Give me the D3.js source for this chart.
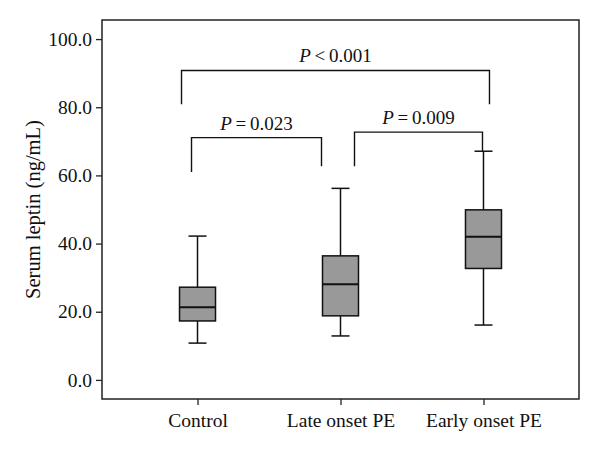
<!DOCTYPE html>
<html><head><meta charset="utf-8">
<script src="https://cdn.jsdelivr.net/npm/d3@7"></script>
<style>body{margin:0;background:#fff;}svg{display:block;}</style>
</head><body>
<script>
const categories = ["Control", "Late onset PE", "Early onset PE"];
const whiskerLow = [10.8, 12.9, 16.1];
const q1 = [17.3, 18.8, 32.7];
const median = [21.3, 28.1, 42.0];
const q3 = [27.2, 36.4, 49.9];
const whiskerHigh = [42.2, 56.2, 67.1];
const yTicks = [0, 20, 40, 60, 80, 100];
// brackets
const bracketFrom = [0, 0, 1];
const bracketTo = [2, 1, 2];
const bracketY = [90.8, 71.1, 72.7];
const bracketLeftEnd = [80.9, 61.0, 62.7];
const bracketRightEnd = [80.9, 62.7, 67.1];
const bracketOp = ["<", "=", "="];
const bracketVal = ["0.001", "0.023", "0.009"];
const bracketXOffL = [-16, -6, 14];
const bracketXOffR = [6, -19, -1];

const W = 600, H = 453;
const m = {left: 102, right: 21, top: 20, bottom: 54};
const svg = d3.select("body").append("svg").attr("width", W).attr("height", H);
const font = "'Liberation Serif', 'Times New Roman', serif";
const fs = 19.5;

const x = d3.scalePoint().domain(categories).range([m.left, W - m.right]).padding(0.668);
const y = d3.scaleLinear().domain([-5.6, 105.6]).range([H - m.bottom, m.top]);

// frame
svg.append("rect").attr("x", m.left).attr("y", m.top)
  .attr("width", W - m.left - m.right).attr("height", H - m.top - m.bottom)
  .attr("fill", "none").attr("stroke", "#222").attr("stroke-width", 1.5);

// y axis
const yAxis = svg.append("g").attr("transform", `translate(${m.left},0)`)
  .call(d3.axisLeft(y).tickValues(yTicks).tickFormat(d3.format(".1f")).tickSize(6).tickPadding(4));
yAxis.select(".domain").remove();
yAxis.selectAll("line").attr("stroke", "#222").attr("stroke-width", 1.3);
yAxis.selectAll("text").attr("font-family", font).attr("font-size", fs).attr("fill", "#111");

// x axis
const xAxis = svg.append("g").attr("transform", `translate(0,${H - m.bottom})`)
  .call(d3.axisBottom(x).tickSize(6).tickPadding(8));
xAxis.select(".domain").remove();
xAxis.selectAll("line").attr("stroke", "#222").attr("stroke-width", 1.3);
xAxis.selectAll("text").attr("font-family", font).attr("font-size", fs).attr("fill", "#111")
  .attr("y", 28).attr("dy", 0);

// y title
svg.append("text").attr("transform", `translate(40,${(m.top + H - m.bottom) / 2}) rotate(-90)`)
  .attr("text-anchor", "middle").attr("font-family", font).attr("font-size", 20.5).attr("fill", "#111")
  .text("Serum leptin (ng/mL)");

// boxes
const boxW = 36, capW = 18;
const g = svg.append("g");
categories.forEach((c, i) => {
  const cx = x(c);
  g.append("line").attr("x1", cx).attr("x2", cx).attr("y1", y(whiskerLow[i])).attr("y2", y(whiskerHigh[i]))
    .attr("stroke", "#111").attr("stroke-width", 1.5);
  [whiskerLow[i], whiskerHigh[i]].forEach(v => {
    g.append("line").attr("x1", cx - capW / 2).attr("x2", cx + capW / 2).attr("y1", y(v)).attr("y2", y(v))
      .attr("stroke", "#111").attr("stroke-width", 1.5);
  });
  g.append("rect").attr("x", cx - boxW / 2).attr("width", boxW)
    .attr("y", y(q3[i])).attr("height", y(q1[i]) - y(q3[i]))
    .attr("fill", "#999").attr("stroke", "#111").attr("stroke-width", 1.5);
  g.append("line").attr("x1", cx - boxW / 2).attr("x2", cx + boxW / 2).attr("y1", y(median[i])).attr("y2", y(median[i]))
    .attr("stroke", "#111").attr("stroke-width", 2);
});

// brackets
bracketY.forEach((by, k) => {
  const xl = x(categories[bracketFrom[k]]) + bracketXOffL[k];
  const xr = x(categories[bracketTo[k]]) + bracketXOffR[k];
  svg.append("path")
    .attr("d", `M${xl},${y(by)}`.replace(/.*/, `M${xl},${y(bracketLeftEnd[k])}V${y(by)}H${xr}V${y(bracketRightEnd[k])}`))
    .attr("fill", "none").attr("stroke", "#111").attr("stroke-width", 1.4);
  const t = svg.append("text").attr("x", (xl + xr) / 2).attr("y", y(by) - 8)
    .attr("text-anchor", "middle").attr("font-family", font).attr("font-size", 19).attr("fill", "#111");
  t.append("tspan").attr("font-style", "italic").text("P");
  t.append("tspan").text(`\u2009${bracketOp[k]}\u2009${bracketVal[k]}`).attr("xml:space", "preserve");
});
</script>
</body></html>
